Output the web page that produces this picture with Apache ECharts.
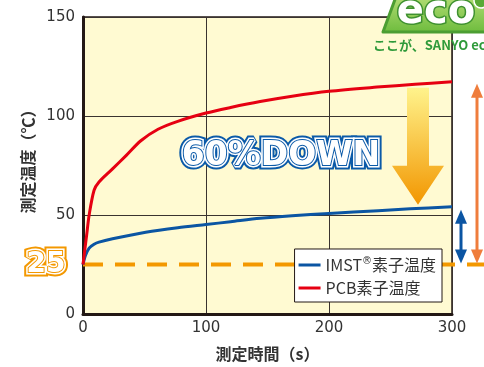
<!DOCTYPE html>
<html><head><meta charset="utf-8">
<script src="https://cdn.jsdelivr.net/npm/echarts@6/dist/echarts.min.js"></script>
<style>html,body{margin:0;padding:0;background:#fff}#c{width:484px;height:367px}</style>
</head><body><div id="c"></div>
<script>
// ---- data ----
const imstName = 'IMST®素子温度';
const pcbName = 'PCB素子温度';
const imstTime = [0, 2, 5, 9, 13, 24, 51, 77, 100, 120, 144, 170, 200, 240, 266, 300];
const imstTemp = [25, 29.5, 33.3, 35.2, 36.3, 38.0, 41.3, 43.6, 45.2, 46.6, 48.3, 49.6, 50.8, 52.2, 53.1, 54.2];
const pcbTime = [0, 3, 5, 9, 13, 24, 35, 47, 61, 77, 100, 120, 144, 170, 200, 239, 270, 300];
const pcbTemp = [25, 40, 50, 62.5, 66.7, 73.3, 80, 87.5, 93.3, 97.3, 101.5, 104.3, 107.3, 110, 112.5, 114.6, 116, 117.3];
const xTicks = [0, 100, 200, 300];
const yTicks = [0, 50, 100, 150];
const baseTemp = 25;

const pairs = (xs, ys) => xs.map((x, i) => [x, ys[i]]);
const chart = echarts.init(document.getElementById('c'), null, {renderer: 'canvas'});
const ink = '#231815';
const numFont = '"DejaVu Sans", sans-serif';
const jpFont = '"Noto Sans CJK JP", sans-serif';

chart.setOption({
  animation: false,
  grid: {left: 83, top: 17, right: 32, bottom: 53, show: true, backgroundColor: '#fffad2',
         borderColor: ink, borderWidth: 1.5, outerBoundsMode: 'none'},
  legend: {
    orient: 'vertical', right: 42, bottom: 65,
    backgroundColor: '#fff', borderColor: ink, borderWidth: 1, borderRadius: 0,
    padding: [7, 6, 6, 4], itemGap: 7, itemWidth: 22, itemHeight: 3, icon: 'rect',
    data: [imstName, pcbName],
    formatter: n => n.replace('®', '{sup|®}'),
    textStyle: {fontSize: 16, color: '#333', fontFamily: jpFont,
      rich: {sup: {fontSize: 10, color: '#333', fontFamily: numFont, padding: [0, 0, 8, 0]}}}
  },
  xAxis: {
    type: 'value', min: xTicks[0], max: xTicks[xTicks.length - 1], interval: 100,
    name: '測定時間（s）', nameLocation: 'middle', nameGap: 32,
    nameTextStyle: {fontSize: 16, fontWeight: 'bold', color: '#333', fontFamily: jpFont},
    axisLine: {show: true, lineStyle: {color: ink, width: 3}},
    axisTick: {show: false},
    axisLabel: {margin: 7, fontSize: 15, color: '#333', fontFamily: numFont},
    splitLine: {show: true, lineStyle: {color: '#3a3330', width: 1}}
  },
  yAxis: {
    type: 'value', min: yTicks[0], max: yTicks[yTicks.length - 1], interval: 50,
    name: '測定温度（℃）', nameLocation: 'middle', nameGap: 42, nameRotate: 90,
    nameTextStyle: {fontSize: 16, fontWeight: 'bold', color: '#333', fontFamily: jpFont, padding: [0, 0, 0, 16]},
    axisLine: {show: true, lineStyle: {color: ink, width: 3}},
    axisTick: {show: false},
    axisLabel: {margin: 8, fontSize: 15, color: '#333', fontFamily: numFont},
    splitLine: {show: true, lineStyle: {color: '#3a3330', width: 1}}
  },
  series: [
    {name: imstName, type: 'line', data: pairs(imstTime, imstTemp), smooth: 0.3, showSymbol: false,
     lineStyle: {color: '#0b55a3', width: 3, join: 'round'}, itemStyle: {color: '#0b55a3'}, z: 3},
    {name: pcbName, type: 'line', data: pairs(pcbTime, pcbTemp), smooth: 0.3, showSymbol: false,
     lineStyle: {color: '#e60012', width: 3, join: 'round'}, itemStyle: {color: '#e60012'}, z: 3}
  ]
});

const p = (x, y) => chart.convertToPixel({gridIndex: 0}, [x, y]);
const [x0, y25] = p(0, baseTemp);
const [xEnd, yPcb] = p(300, pcbTemp[pcbTemp.length - 1]);
const yImst = p(300, imstTemp[imstTemp.length - 1])[1];
const W = chart.getWidth();

function outlined(text, cx, cy, size, color, z) {
  const font = 'bold ' + size + 'px "DejaVu Sans", sans-serif';
  const base = {text, font, align: 'center', verticalAlign: 'middle'};
  return [
    {type: 'text', x: cx, y: cy, z, style: Object.assign({}, base, {fill: color, stroke: color, lineWidth: 9, lineJoin: 'round'})},
    {type: 'text', x: cx, y: cy, z: z + 1, style: Object.assign({}, base, {fill: '#fff', stroke: '#fff', lineWidth: 5, lineJoin: 'round'})},
    {type: 'text', x: cx, y: cy, z: z + 2, style: Object.assign({}, base, {fill: '#fff', stroke: color, lineWidth: 2, lineJoin: 'round'})}
  ];
}
function dblArrow(x, yTop, yBot, color, z) {
  const hw = 6, hh = 14;
  return [
    {type: 'line', z, shape: {x1: x, y1: yTop + hh - 1, x2: x, y2: yBot - hh + 1}, style: {stroke: color, lineWidth: 3}},
    {type: 'polygon', z, shape: {points: [[x, yTop], [x - hw, yTop + hh], [x + hw, yTop + hh]]}, style: {fill: color}},
    {type: 'polygon', z, shape: {points: [[x, yBot], [x - hw, yBot - hh], [x + hw, yBot - hh]]}, style: {fill: color}}
  ];
}

const ax = xEnd - 34; // big arrow centre
const g = [];
g.push({type: 'line', z: 1, shape: {x1: x0, y1: y25, x2: W, y2: y25},
  style: {stroke: '#f39800', lineWidth: 4, lineDash: [20, 12]}});
g.push({type: 'polygon', z: 2, shape: {points: [
  [ax - 11, yPcb + 6], [ax + 11, yPcb + 6], [ax + 11, yPcb + 84], [ax + 26, yPcb + 84],
  [ax, yImst - 2], [ax - 26, yPcb + 84], [ax - 11, yPcb + 84]]},
  style: {fill: {type: 'linear', x: 0, y: 0, x2: 0, y2: 1,
    colorStops: [{offset: 0, color: '#fff38c'}, {offset: 1, color: '#f29600'}]}}});
g.push(...dblArrow(xEnd + 25, yPcb + 2, y25 - 1, '#ef7d3c', 5));
g.push(...dblArrow(xEnd + 9, yImst + 3, y25 - 1, '#0b55a3', 5));
g.push(...outlined('60%DOWN', 281, 156, 33, '#0b5aa8', 10));
g.push(...outlined('25', 46, y25, 28, '#f39800', 10));
// eco logo
g.push({type: 'polygon', z: 20, shape: {points: [[383, 32], [397, -6], [490, -6], [490, 32]]},
  style: {fill: {type: 'linear', x: 0, y: 0, x2: 0, y2: 1,
    colorStops: [{offset: 0, color: '#b9e07a'}, {offset: 1, color: '#6cbb3c'}]},
    stroke: '#4c9e32', lineWidth: 3, lineJoin: 'round'}});
g.push({type: 'text', x: 436, y: 13, z: 21, style: {text: 'eco', font: 'bold 40px "DejaVu Sans", sans-serif',
  fill: '#fff', stroke: '#3f9130', lineWidth: 3, align: 'center', verticalAlign: 'middle'}});
g.push({type: 'circle', z: 22, shape: {cx: 481, cy: 1, r: 7}, style: {fill: '#5aaa36', stroke: '#fff', lineWidth: 1.5}});
g.push({type: 'text', x: 373, y: 45, z: 21, style: {text: 'ここが、SANYO eco', font: 'bold 13px "Noto Sans CJK JP", sans-serif',
  fill: '#2f9a3a', align: 'left', verticalAlign: 'middle'}});

chart.setOption({graphic: g});
</script></body></html>
